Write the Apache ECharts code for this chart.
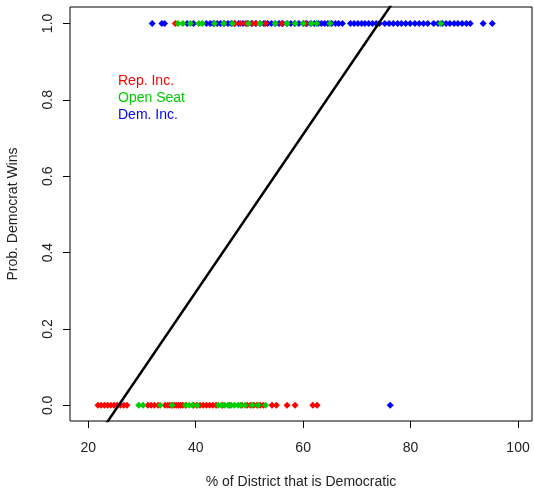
<!DOCTYPE html>
<html>
<head>
<meta charset="utf-8">
<script src="https://cdn.jsdelivr.net/npm/echarts@6/dist/echarts.min.js"></script>
<style>
html,body{margin:0;padding:0;background:#fff;}
#chart{width:534px;height:489px;}
</style>
</head>
<body>
<div id="chart"></div>
<script>
// Data (x = % of district that is Democratic), split by incumbency and outcome
var repLoseX = [21.8,22.4,23.0,23.6,24.2,24.8,25.4,26.0,26.6,27.2,31.1,31.7,32.3,33.0,34.3,34.8,35.2,35.6,36.0,36.4,36.8,37.2,37.6,38.2,39.6,40.2,40.8,41.4,42.0,42.6,43.2,43.8,45.0,46.3,48.6,49.6,50.2,50.8,51.4,52.0,52.6,54.2,55.0,57.0,58.5,61.8,62.6];
var repWinX = [36.2,47.3,48.3,49.3,50.5,51.2,53.0,56.0,60.4];
var openLoseX = [29.4,30.2,33.4,35.6,38.1,38.8,39.4,40.3,44.2,44.8,45.4,46.0,46.6,47.2,47.9,48.4,49.2,50.5,51.6,53.0];
var openWinX = [36.7,37.6,39.0,40.6,41.2,43.5,45.2,46.8,49.8,52.0,54.8,57.0,58.5,60.0,61.5,62.5,65.0,85.6];
var demLoseX = [76.2];
var demWinX = [31.9,33.7,34.2,38.4,39.6,42.0,42.7,43.3,44.0,44.6,45.3,46.0,46.6,47.2,48.0,48.8,49.6,50.4,51.2,52.0,52.7,53.4,54.1,54.8,55.5,56.2,57.0,57.7,58.4,59.2,60.0,60.7,61.4,62.1,62.8,63.4,64.0,64.6,65.3,66.0,66.6,67.3,68.8,69.5,70.2,70.9,71.5,72.2,72.9,73.6,74.2,75.2,76.0,76.8,77.6,78.3,79.1,79.9,80.8,81.6,82.4,83.2,84.3,85.1,85.9,86.6,87.3,88.1,88.8,89.6,90.4,91.1,93.5,95.2];
// Linear probability fit: intercept, slope
var fitCoef = [-0.530, 0.02066];
var xTicks = [20, 40, 60, 80, 100];
var yTicks = [0, 0.2, 0.4, 0.6, 0.8, 1.0];
var groupNames = ['Rep. Inc.', 'Open Seat', 'Dem. Inc.'];
var groupColors = ['#FF0000', '#00CD00', '#0000FF'];

var X_MIN = 16.6, X_MAX = 102.6, Y_MIN = -0.041, Y_MAX = 1.043;

function pts(lose, win) {
  var d = [];
  lose.forEach(function (x) { d.push([x, 0]); });
  win.forEach(function (x) { d.push([x, 1]); });
  return d;
}
var fitLine = [X_MIN, X_MAX].map(function (x) { return [x, fitCoef[0] + fitCoef[1] * x]; });

var font = 'Liberation Sans, Arial, sans-serif';
var chart = echarts.init(document.getElementById('chart'), null, {renderer: 'canvas'});
function scatter(name, color, data) {
  return {
    name: name, type: 'scatter', data: data,
    symbol: 'diamond', symbolSize: [7, 7],
    itemStyle: {color: color, opacity: 1},
    emphasis: {disabled: true}, animation: false
  };
}
chart.setOption({
  animation: false,
  backgroundColor: '#fff',
  grid: {left: 70, top: 7, right: 2, bottom: 68, show: true, borderColor: '#000', borderWidth: 1,
    backgroundColor: 'transparent', containLabel: false, outerBoundsMode: 'none'},
  legend: {
    orient: 'vertical', left: 108, top: 69, itemGap: 3, itemWidth: 0, itemHeight: 0,
    selectedMode: false,
    textStyle: {fontFamily: font, fontSize: 14},
    data: groupNames.map(function (n, i) { return {name: n, icon: 'none', textStyle: {color: groupColors[i]}}; })
  },
  xAxis: {
    type: 'value', min: X_MIN, max: X_MAX,
    name: '% of District that is Democratic', nameLocation: 'middle', nameGap: 54,
    nameTextStyle: {fontFamily: font, fontSize: 14, color: '#222'},
    axisLine: {show: false, onZero: false},
    splitLine: {show: false},
    axisTick: {show: true, inside: false, length: 7, lineStyle: {color: '#000'}, customValues: xTicks},
    axisLabel: {fontFamily: font, fontSize: 14, color: '#222', margin: 20, customValues: xTicks}
  },
  yAxis: {
    type: 'value', min: Y_MIN, max: Y_MAX,
    name: 'Prob. Democrat Wins', nameLocation: 'middle', nameGap: 50, nameRotate: 90,
    nameTextStyle: {fontFamily: font, fontSize: 14, color: '#222'},
    axisLine: {show: false, onZero: false},
    splitLine: {show: false},
    axisTick: {show: true, inside: false, length: 7, lineStyle: {color: '#000'}, customValues: yTicks},
    axisLabel: {fontFamily: font, fontSize: 14, color: '#222', margin: 15, rotate: 90,
      customValues: yTicks, formatter: function (v) { return v.toFixed(1); }}
  },
  series: [
    scatter(groupNames[2], groupColors[2], pts(demLoseX, demWinX)),
    scatter(groupNames[0], groupColors[0], pts(repLoseX, repWinX)),
    scatter(groupNames[1], groupColors[1], pts(openLoseX, openWinX)),
    {
      name: 'fit', type: 'line', data: fitLine, symbol: 'none', clip: true,
      lineStyle: {color: '#000', width: 2.5}, emphasis: {disabled: true}, z: 5
    }
  ]
});
</script>
</body>
</html>
